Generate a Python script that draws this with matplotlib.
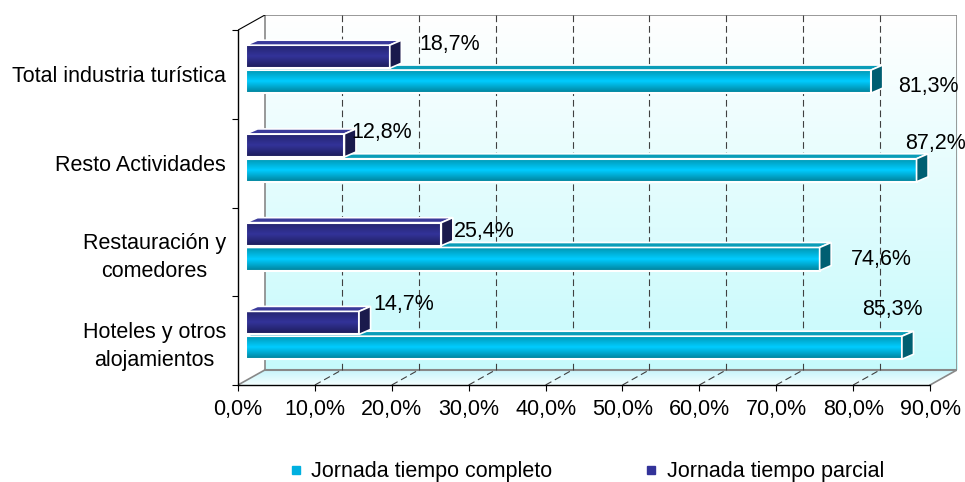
import numpy as np
import matplotlib.pyplot as plt
from matplotlib.colors import LinearSegmentedColormap
from matplotlib.patches import Polygon, Rectangle
from matplotlib.lines import Line2D

plt.rcParams['font.family'] = ['Liberation Sans', 'DejaVu Sans']
FONTSIZE = 15.5

# categories bottom to top
categorias = ["Hoteles y otros\nalojamientos", "Restauración y\ncomedores",
              "Resto Actividades", "Total industria turística"]
completo = [85.3, 74.6, 87.2, 81.3]
parcial = [14.7, 25.4, 12.8, 18.7]
xticks = list(range(0, 100, 10))
series_names = ["Jornada tiempo completo", "Jornada tiempo parcial"]

# label nudges (pixels) from the bar end
off_completo = [(-10, 38), (62, 0), (19, 27), (57, -5)]
off_parcial = [(45, 18), (43, 3), (37, 13), (60, 12)]

# fake 3d: back wall offset, bar plane offset, bar depth (data units)
DX, DY = 3.5, 0.17
BX, BY = 1.04, 0.045
ZX, ZY = 1.5, 0.056
H = 0.26
C_DARK, C_LIGHT = 0.655, 0.375

grad = np.linspace(0, 1, 256).reshape(-1, 1)
wall_cmap = LinearSegmentedColormap.from_list("wall", ["#c6fafc", "#ffffff"])
floor_cmap = LinearSegmentedColormap.from_list("floor", ["#f4ffff", "#c4f3fa"])
light_cmap = LinearSegmentedColormap.from_list("light", ["#007f97", "#00ccff", "#0093ad"])
dark_cmap = LinearSegmentedColormap.from_list("dark", ["#1c1c58", "#333399", "#23236b"])


def fmt(v):
    return f"{v:.1f}%".replace(".", ",")


fig = plt.figure(figsize=(9.65, 4.82), dpi=100)
ax = fig.add_axes([238 / 965, 97 / 482, 719 / 965, 370 / 482])
for s in ax.spines.values():
    s.set_visible(False)

# walls
ax.imshow(grad, extent=(DX, 90 + DX, DY, 4 + DY), origin="lower", cmap=wall_cmap,
          aspect="auto", interpolation="bilinear", zorder=0)
floor = Polygon([(0, 0), (90, 0), (90 + DX, DY), (DX, DY)], closed=True,
                transform=ax.transData)
im = ax.imshow(grad, extent=(0, 90 + DX, 0, DY), origin="lower", cmap=floor_cmap,
               aspect="auto", interpolation="bilinear", zorder=0)
im.set_clip_path(floor)
ax.add_patch(Polygon([(0, 0), (DX, DY), (DX, 4 + DY), (0, 4)], closed=True,
                     facecolor="white", edgecolor="none", zorder=0))

gray = "#888888"
ax.plot([DX, DX, 90 + DX, 90 + DX], [DY, 4 + DY, 4 + DY, DY], color=gray, lw=1.2, zorder=1)
ax.plot([0, DX], [0, DY], color=gray, lw=1.2, zorder=1)
ax.plot([90, 90 + DX], [0, DY], color=gray, lw=1.2, zorder=1)
ax.plot([DX, 90 + DX], [DY, DY], color=gray, lw=1.5, zorder=1)
ax.plot([0, DX], [4, 4 + DY], color="black", lw=0.8, zorder=1)

# dashed grid on back wall and floor
for x in xticks[1:-1]:
    ax.plot([x + DX, x + DX], [DY, 4 + DY], color="#404040", lw=0.8,
            dashes=(6, 3.5), zorder=1)
    ax.plot([x, x + DX], [0, DY], color="#404040", lw=0.8, dashes=(6, 3.5), zorder=1)


def bar3d(v, yc, cmap, top, side, z):
    x0 = BX
    y0 = yc - H / 2 + BY
    y1 = y0 + H
    ax.imshow(grad, extent=(x0, x0 + v, y0, y1), origin="lower", cmap=cmap,
              aspect="auto", interpolation="bilinear", zorder=z)
    ax.add_patch(Rectangle((x0, y0), v, H, facecolor="none", edgecolor="white",
                           lw=1.5, zorder=z + 0.1))
    ax.add_patch(Polygon([(x0, y1), (x0 + v, y1), (x0 + v + ZX, y1 + ZY), (x0 + ZX, y1 + ZY)],
                         closed=True, facecolor=top, edgecolor="white", lw=1.2, zorder=z + 0.1))
    ax.add_patch(Polygon([(x0 + v, y0), (x0 + v + ZX, y0 + ZY), (x0 + v + ZX, y1 + ZY), (x0 + v, y1)],
                         closed=True, facecolor=side, edgecolor="white", lw=1.2, zorder=z + 0.1))


for i in range(len(categorias)):
    bar3d(completo[i], i + C_LIGHT, light_cmap, "#0a9db8", "#005f72", 3)
    bar3d(parcial[i], i + C_DARK, dark_cmap, "#3a3a9a", "#1a1a4c", 4)
    ax.annotate(fmt(completo[i]), (BX + completo[i], i + C_LIGHT + BY),
                xytext=off_completo[i], textcoords="offset pixels",
                ha="center", va="center", fontsize=FONTSIZE, zorder=10)
    ax.annotate(fmt(parcial[i]), (BX + parcial[i], i + C_DARK + BY),
                xytext=off_parcial[i], textcoords="offset pixels",
                ha="center", va="center", fontsize=FONTSIZE, zorder=10)

# front axis lines
ax.plot([0, 90], [0, 0], color="black", lw=1, zorder=2, clip_on=False)
ax.plot([0, 0], [0, 4], color="black", lw=1, zorder=2, clip_on=False)

ax.set_xticks(xticks, [fmt(x) for x in xticks])
ax.set_yticks([i + 0.5 for i in range(len(categorias))], categorias)
ax.set_yticks(range(5), minor=True)
ax.tick_params(axis="x", direction="out", length=4.3, width=0.8, pad=6,
               labelsize=FONTSIZE)
ax.tick_params(axis="y", which="major", length=0, pad=8.5, labelsize=FONTSIZE)
ax.tick_params(axis="y", which="minor", direction="out", length=4.3, width=0.8)
for t in ax.get_yticklabels():
    t.set_multialignment("center")
    t.set_linespacing(1.43)

ax.set_xlim(0, 90 + DX)
ax.set_ylim(0, 4 + DY)

handles = [Line2D([], [], marker="s", ls="none", color="#00b0e0", markersize=6),
           Line2D([], [], marker="s", ls="none", color="#333399", markersize=6)]
fig.legend(handles, series_names, loc="center", bbox_to_anchor=(0.607, 0.021),
           ncol=2, frameon=False, fontsize=FONTSIZE, columnspacing=4.2,
           handletextpad=0.3, handlelength=0.8)

fig.savefig("out.png", dpi=100)
